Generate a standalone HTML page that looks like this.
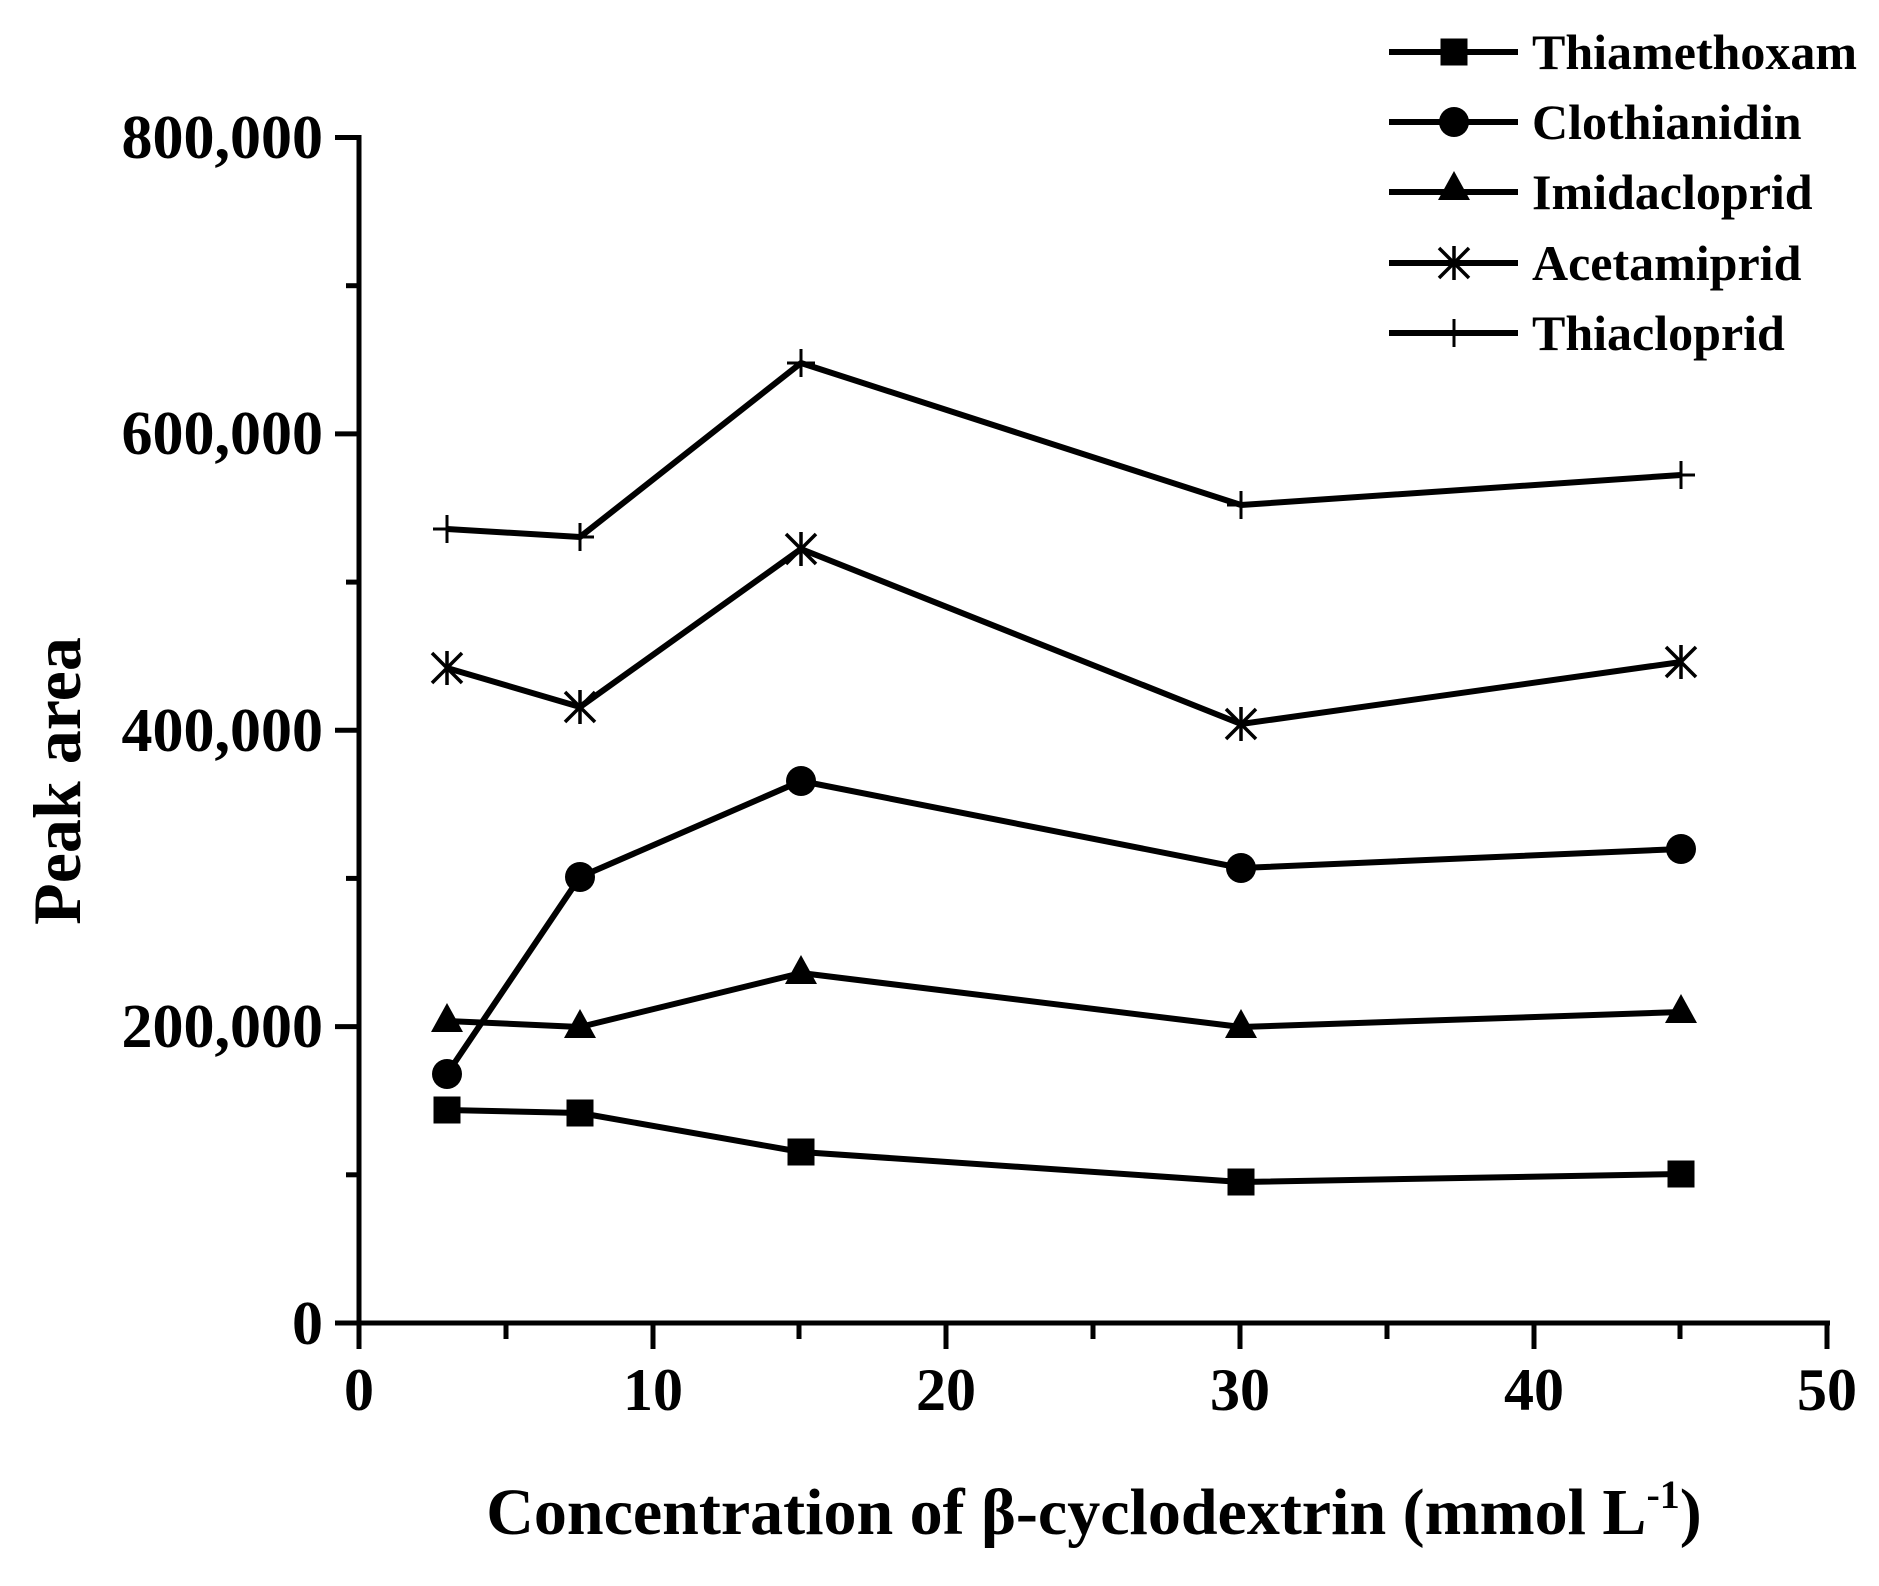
<!DOCTYPE html>
<html><head><meta charset="utf-8"><style>
html,body{margin:0;padding:0;background:#fff}
svg text{font-family:"Liberation Serif",serif;font-weight:bold;fill:#000}
</style></head><body>
<svg width="1879" height="1581" viewBox="0 0 1879 1581" xmlns="http://www.w3.org/2000/svg">
<defs>
<rect id="sq" x="-13.5" y="-13.5" width="27" height="27" fill="#000"/>
<circle id="ci" r="15" fill="#000"/>
<path id="tr" d="M0,-18 L16,11 L-16,11 Z" fill="#000"/>
<g id="st" stroke="#000" stroke-width="3.5"><line x1="0" y1="-17" x2="0" y2="17"/><line x1="-15" y1="-15" x2="15" y2="15"/><line x1="-15" y1="15" x2="15" y2="-15"/></g>
<g id="pl" stroke="#000" stroke-width="3"><line x1="0" y1="-14" x2="0" y2="14"/><line x1="-14" y1="0" x2="14" y2="0"/></g>
</defs>
<g stroke="#000" stroke-width="5" fill="none">
<line x1="359" y1="135" x2="359" y2="1325"/>
<line x1="335" y1="1323" x2="1830" y2="1323"/>
<line x1="335" y1="137.5" x2="359" y2="137.5"/>
<line x1="346" y1="285.7" x2="359" y2="285.7"/>
<line x1="335" y1="433.9" x2="359" y2="433.9"/>
<line x1="346" y1="582.1" x2="359" y2="582.1"/>
<line x1="335" y1="730.3" x2="359" y2="730.3"/>
<line x1="346" y1="878.4" x2="359" y2="878.4"/>
<line x1="335" y1="1026.6" x2="359" y2="1026.6"/>
<line x1="346" y1="1174.8" x2="359" y2="1174.8"/>
<line x1="335" y1="1323" x2="359" y2="1323"/>
<line x1="359" y1="1323" x2="359" y2="1349"/>
<line x1="506" y1="1323" x2="506" y2="1339"/>
<line x1="653" y1="1323" x2="653" y2="1349"/>
<line x1="799" y1="1323" x2="799" y2="1339"/>
<line x1="946" y1="1323" x2="946" y2="1349"/>
<line x1="1093" y1="1323" x2="1093" y2="1339"/>
<line x1="1240" y1="1323" x2="1240" y2="1349"/>
<line x1="1387" y1="1323" x2="1387" y2="1339"/>
<line x1="1534" y1="1323" x2="1534" y2="1349"/>
<line x1="1680" y1="1323" x2="1680" y2="1339"/>
<line x1="1827" y1="1323" x2="1827" y2="1349"/>
</g>
<g font-size="62" text-anchor="end">
<text x="323" y="158">800,000</text>
<text x="323" y="454">600,000</text>
<text x="323" y="751">400,000</text>
<text x="323" y="1047">200,000</text>
<text x="323" y="1344">0</text>
</g>
<g font-size="60" text-anchor="middle">
<text x="359" y="1410">0</text>
<text x="653" y="1410">10</text>
<text x="946" y="1410">20</text>
<text x="1240" y="1410">30</text>
<text x="1534" y="1410">40</text>
<text x="1827" y="1410">50</text>
</g>
<text x="1094" y="1534" font-size="66" text-anchor="middle">Concentration of β-cyclodextrin (mmol L<tspan dy="-26" font-size="40">-1</tspan><tspan dy="26">)</tspan></text>
<text transform="translate(80,781) rotate(-90)" font-size="68" text-anchor="middle">Peak area</text>
<g stroke="#000" stroke-width="6" fill="none" stroke-linejoin="round">
<polyline points="447,1110 580,1113 801,1152 1241,1182 1681,1174"/>
<polyline points="447,1074 580,877 801,781 1241,868 1681,849"/>
<polyline points="447,1021 580,1027 801,973 1241,1027 1681,1012"/>
<polyline points="447,668 580,707 801,549 1241,724 1681,662"/>
<polyline points="447,529 580,537 801,363 1241,505 1681,475"/>
</g>
<use href="#sq" x="447" y="1110"/><use href="#sq" x="580" y="1113"/><use href="#sq" x="801" y="1152"/><use href="#sq" x="1241" y="1182"/><use href="#sq" x="1681" y="1174"/>
<use href="#ci" x="447" y="1074"/><use href="#ci" x="580" y="877"/><use href="#ci" x="801" y="781"/><use href="#ci" x="1241" y="868"/><use href="#ci" x="1681" y="849"/>
<use href="#tr" x="447" y="1021"/><use href="#tr" x="580" y="1027"/><use href="#tr" x="801" y="973"/><use href="#tr" x="1241" y="1027"/><use href="#tr" x="1681" y="1012"/>
<use href="#st" x="447" y="668"/><use href="#st" x="580" y="707"/><use href="#st" x="801" y="549"/><use href="#st" x="1241" y="724"/><use href="#st" x="1681" y="662"/>
<use href="#pl" x="447" y="529"/><use href="#pl" x="580" y="537"/><use href="#pl" x="801" y="363"/><use href="#pl" x="1241" y="505"/><use href="#pl" x="1681" y="475"/>
<g stroke="#000" stroke-width="6">
<line x1="1389" y1="52" x2="1518" y2="52"/>
<line x1="1389" y1="122" x2="1518" y2="122"/>
<line x1="1389" y1="192" x2="1518" y2="192"/>
<line x1="1389" y1="263" x2="1518" y2="263"/>
<line x1="1389" y1="333" x2="1518" y2="333"/>
</g>
<use href="#sq" x="1454" y="52"/>
<use href="#ci" x="1454" y="122"/>
<use href="#tr" x="1454" y="189"/>
<use href="#st" x="1454" y="263"/>
<use href="#pl" x="1454" y="333"/>
<g font-size="50">
<text x="1532" y="69">Thiamethoxam</text>
<text x="1532" y="139">Clothianidin</text>
<text x="1532" y="209">Imidacloprid</text>
<text x="1532" y="280">Acetamiprid</text>
<text x="1532" y="350">Thiacloprid</text>
</g>
</svg>
</body></html>
